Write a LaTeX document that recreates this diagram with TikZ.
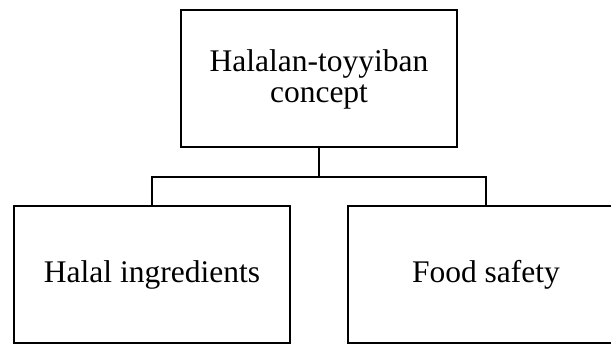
\documentclass[tikz,border=0pt]{standalone}
\usepackage{fontspec}
\setmainfont{Liberation Serif}
\usetikzlibrary{positioning}

\tikzset{
	conceptbox/.style={draw, line width=2pt, minimum width=276pt, minimum height=137pt,
		align=center, inner sep=0pt, font=\fontsize{31.5}{31}\selectfont},
	treeline/.style={line width=2pt}
}

\begin{document}
\begin{tikzpicture}[x=1pt,y=1pt]

	\useasboundingbox (0,0) rectangle (611,345);
	\clip (0,0) rectangle (611,345);

	\node[conceptbox] (top) at (319,266) {Halalan-toyyiban\\concept};
	\node[conceptbox] (halal) at (152,70.5) {Halal ingredients};
	\node[conceptbox] (safety) at (486,70.5) {Food safety};
	
	\coordinate (split) at (319,168);

	\draw[treeline] (top.south) -- (split);
	\draw[treeline] (split) -| (halal.north);
	\draw[treeline] (split) -| (safety.north);
	 
\end{tikzpicture}
\end{document}
